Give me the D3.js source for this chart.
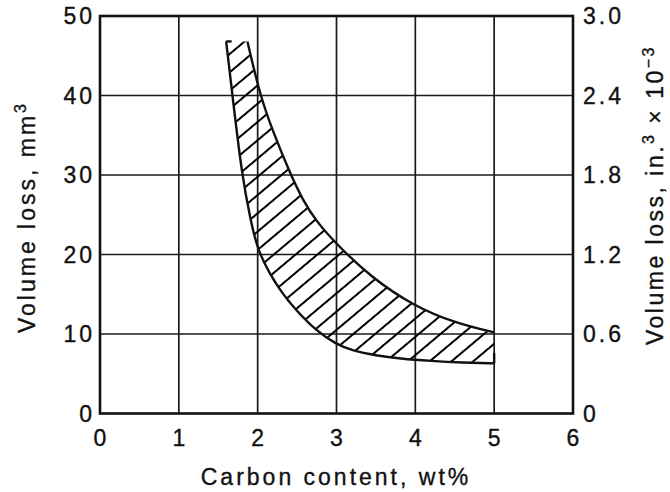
<!DOCTYPE html>
<html>
<head>
<meta charset="utf-8">
<script src="https://cdn.jsdelivr.net/npm/d3@7"></script>
<style>
  body { margin: 0; background: #fff; }
  svg text { font-family: "Liberation Sans", Arial, sans-serif; font-size: 23px; fill: #111; stroke: #111; stroke-width: 0.35px; letter-spacing: 3px; }
</style>
</head>
<body>
<svg id="chart"></svg>
<script>
// Data: carbon content (wt%) vs volume loss (mm3)
const xTicks = [0, 1, 2, 3, 4, 5, 6];
const yTicks = [0, 10, 20, 30, 40, 50];
const yRightTicks = [0, 0.6, 1.2, 1.8, 2.4, 3.0];
const yRightLabels = ["0", "0.6", "1.2", "1.8", "2.4", "3.0"];

// upper bound of the scatter band
const upperCurve = [
  [1.87, 46.8], [2.03, 40], [2.2, 35.3], [2.42, 30], [2.57, 26.9], [2.74, 24.2],
  [3.0, 21.3], [3.43, 17.2], [3.98, 13.5], [4.53, 11.3], [5.0, 10.2]
];
// lower bound of the scatter band
const lowerCurve = [
  [1.60, 46.8], [1.68, 40], [1.80, 30], [1.91, 24.3], [2.0, 20.6], [2.15, 17.6],
  [2.3, 15.3], [2.45, 13.4], [2.74, 10.4], [3.0, 8.7], [3.2, 7.9], [3.5, 7.3],
  [3.8, 6.9], [4.2, 6.6], [4.6, 6.4], [5.0, 6.3]
];
// little end stubs drawn on the lower curve
const lowerTopCap = [[1.60, 46.8], [1.67, 46.8]];
const lowerEndCap = [[5.0, 6.3], [5.0, 7.6]];

const W = 670, H = 492;
const margin = {top: 16, right: 97, bottom: 78.5, left: 100};

const svg = d3.select("#chart").attr("width", W).attr("height", H);

const x = d3.scaleLinear().domain([0, 6]).range([margin.left, W - margin.right]);
const y = d3.scaleLinear().domain([0, 50]).range([H - margin.bottom, margin.top]);
const yR = d3.scaleLinear().domain([0, 3.0]).range([H - margin.bottom, margin.top]);

// hatch pattern
const defs = svg.append("defs");
defs.append("pattern")
    .attr("id", "hatch")
    .attr("patternUnits", "userSpaceOnUse")
    .attr("width", 40).attr("height", 14)
    .attr("patternTransform", "rotate(-40)")
  .append("line")
    .attr("x1", 0).attr("x2", 40)
    .attr("y1", 7).attr("y2", 7)
    .attr("stroke", "#000").attr("stroke-width", 2);

// grid lines
svg.append("g")
  .selectAll("line")
  .data(xTicks.slice(1, -1))
  .join("line")
    .attr("x1", d => x(d)).attr("x2", d => x(d))
    .attr("y1", y(0)).attr("y2", y(50))
    .attr("stroke", "#1a1a1a").attr("stroke-width", 1.7);

svg.append("g")
  .selectAll("line")
  .data(yTicks.slice(1, -1))
  .join("line")
    .attr("x1", x(0)).attr("x2", x(6))
    .attr("y1", d => y(d)).attr("y2", d => y(d))
    .attr("stroke", "#1a1a1a").attr("stroke-width", 1.7);

// hatched band between the two curves
const line = d3.line()
    .x(d => x(d[0]))
    .y(d => y(d[1]))
    .curve(d3.curveBasis);

const bandPath = line(upperCurve) +
    line(lowerCurve.slice().reverse()).replace(/^M/, "L") + "Z";

svg.append("path")
    .attr("d", bandPath)
    .attr("fill", "url(#hatch)")
    .attr("stroke", "none");

svg.append("path")
    .attr("d", line(upperCurve))
    .attr("fill", "none").attr("stroke", "#111").attr("stroke-width", 2.4);

svg.append("path")
    .attr("d", line(lowerCurve))
    .attr("fill", "none").attr("stroke", "#111").attr("stroke-width", 2.4);

const straight = d3.line().x(d => x(d[0])).y(d => y(d[1]));
[lowerTopCap, lowerEndCap].forEach(c => {
  svg.append("path")
      .attr("d", straight(c))
      .attr("fill", "none").attr("stroke", "#111").attr("stroke-width", 2.4);
});

// frame
svg.append("rect")
    .attr("x", x(0)).attr("y", y(50))
    .attr("width", x(6) - x(0)).attr("height", y(0) - y(50))
    .attr("fill", "none").attr("stroke", "#111").attr("stroke-width", 2.6);

// tick labels
svg.append("g")
  .selectAll("text")
  .data(yTicks)
  .join("text")
    .attr("x", x(0) - 5)
    .attr("y", d => y(d) + 8)
    .attr("text-anchor", "end")
    .text(d => d);

svg.append("g")
  .selectAll("text")
  .data(yRightTicks)
  .join("text")
    .attr("x", x(6) + 10)
    .attr("y", d => yR(d) + 8)
    .attr("text-anchor", "start")
    .text((d, i) => yRightLabels[i]);

svg.append("g")
  .selectAll("text")
  .data(xTicks)
  .join("text")
    .attr("x", d => x(d) + 1.5)
    .attr("y", 446)
    .attr("text-anchor", "middle")
    .text(d => d);

// axis titles
svg.append("text")
    .attr("x", 336)
    .attr("y", 485)
    .attr("text-anchor", "middle")
    .text("Carbon content, wt%");

const leftTitle = svg.append("text")
    .attr("transform", "translate(35,217) rotate(-90)")
    .attr("text-anchor", "middle");
leftTitle.append("tspan").text("Volume loss, mm");
leftTitle.append("tspan").attr("dy", -9).style("font-size", "16px").text("3");

const rightTitle = svg.append("text")
    .attr("transform", "translate(663,195) rotate(-90)")
    .attr("text-anchor", "middle")
    .style("letter-spacing", "2.5px");
rightTitle.append("tspan").text("Volume loss, in.");
rightTitle.append("tspan").attr("dy", -9).style("font-size", "16px").text("3");
rightTitle.append("tspan").attr("dy", 9).text(" × 10");
rightTitle.append("tspan").attr("dy", -9).style("font-size", "16px").text("−3");
</script>
</body>
</html>
